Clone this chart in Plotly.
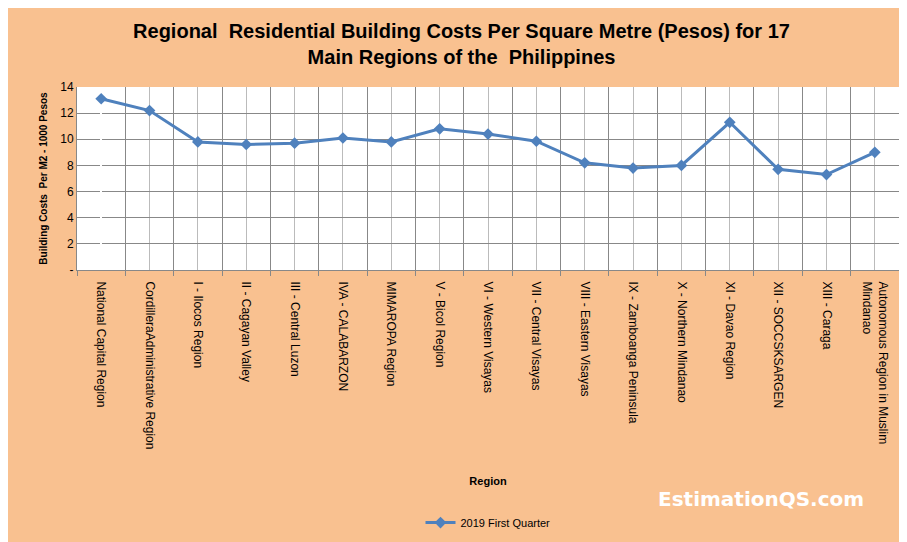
import plotly.graph_objects as go

regions = ["National Capital Region", "CordilleraAdministrative Region", "I - Ilocos Region",
           "II - Cagayan Valley", "III - Central Luzon", "IVA - CALABARZON", "MIMAROPA Region",
           "V - Bicol Region", "VI - Western Visayas", "VII - Central Visayas",
           "VIII - Eastern Visayas", "IX - Zamboanga Peninsula", "X - Northern Mindanao",
           "XI - Davao Region", "XII - SOCCSKSARGEN", "XIII - Caraga",
           "Autonomous Region in Muslim<br>Mindanao"]
costs = [13.1, 12.2, 9.8, 9.6, 9.7, 10.1, 9.8, 10.8, 10.4, 9.85, 8.2, 7.8, 8.0, 11.3, 7.7, 7.3, 9.0]
ytick_vals = [0, 2, 4, 6, 8, 10, 12, 14]
ytick_text = ["-", "2", "4", "6", "8", "10", "12", "14"]

xs = list(range(len(regions)))
peach = "#F9C190"

fig = go.Figure()
fig.add_trace(go.Scatter(x=xs, y=costs, mode="lines+markers", name="2019 First Quarter",
                         line=dict(color="#4F81BD", width=3),
                         marker=dict(symbol="diamond", size=9, color="#4F81BD")))

fig.update_layout(
    width=907, height=542, paper_bgcolor=peach, plot_bgcolor="white",
    font=dict(family="Liberation Sans", size=11, color="black"),
    title=dict(text="<b>Regional  Residential Building Costs Per Square Metre (Pesos) for 17<br>Main Regions of the  Philippines</b>",
               x=0.5, y=0.945, xanchor="center", font=dict(family="Liberation Sans", size=20)),
    margin=dict(l=69, r=16, t=79, b=280),
    showlegend=True,
    legend=dict(orientation="h", x=0.5, xanchor="center", y=-1.38, yanchor="middle",
                bgcolor="rgba(0,0,0,0)", font=dict(size=11)),
    annotations=[dict(text="<b>EstimationQS.com</b>", x=0.96, xref="paper", xanchor="right",
                      y=-1.25, yref="paper", yanchor="middle", showarrow=False,
                      font=dict(size=20, color="white", family="DejaVu Sans"))],
)
fig.update_xaxes(range=[-0.5, len(regions) - 0.5], tickvals=xs, ticktext=regions, tickangle=90,
                 showgrid=True, gridcolor="#BBBBBB", showline=True, linecolor="#888888",
                 minor=dict(tickvals=[i + 0.5 for i in range(-1, len(regions))], showgrid=True,
                            gridcolor="#888888", ticks="outside", ticklen=5, tickcolor="#888888"),
                 ticks="", ticklabelstandoff=8, tickfont=dict(size=12),
                 title=dict(text="<b>Region</b>", standoff=28, font=dict(size=11)))
fig.update_yaxes(range=[0, 14], tickvals=ytick_vals, ticktext=ytick_text, showgrid=True,
                 gridcolor="#888888", showline=True, linecolor="#888888", tickfont=dict(size=12),
                 title=dict(text="<b>Building Costs  Per M2 - 1000 Pesos</b>", font=dict(size=10), standoff=10))

fig.write_html("out.html")
